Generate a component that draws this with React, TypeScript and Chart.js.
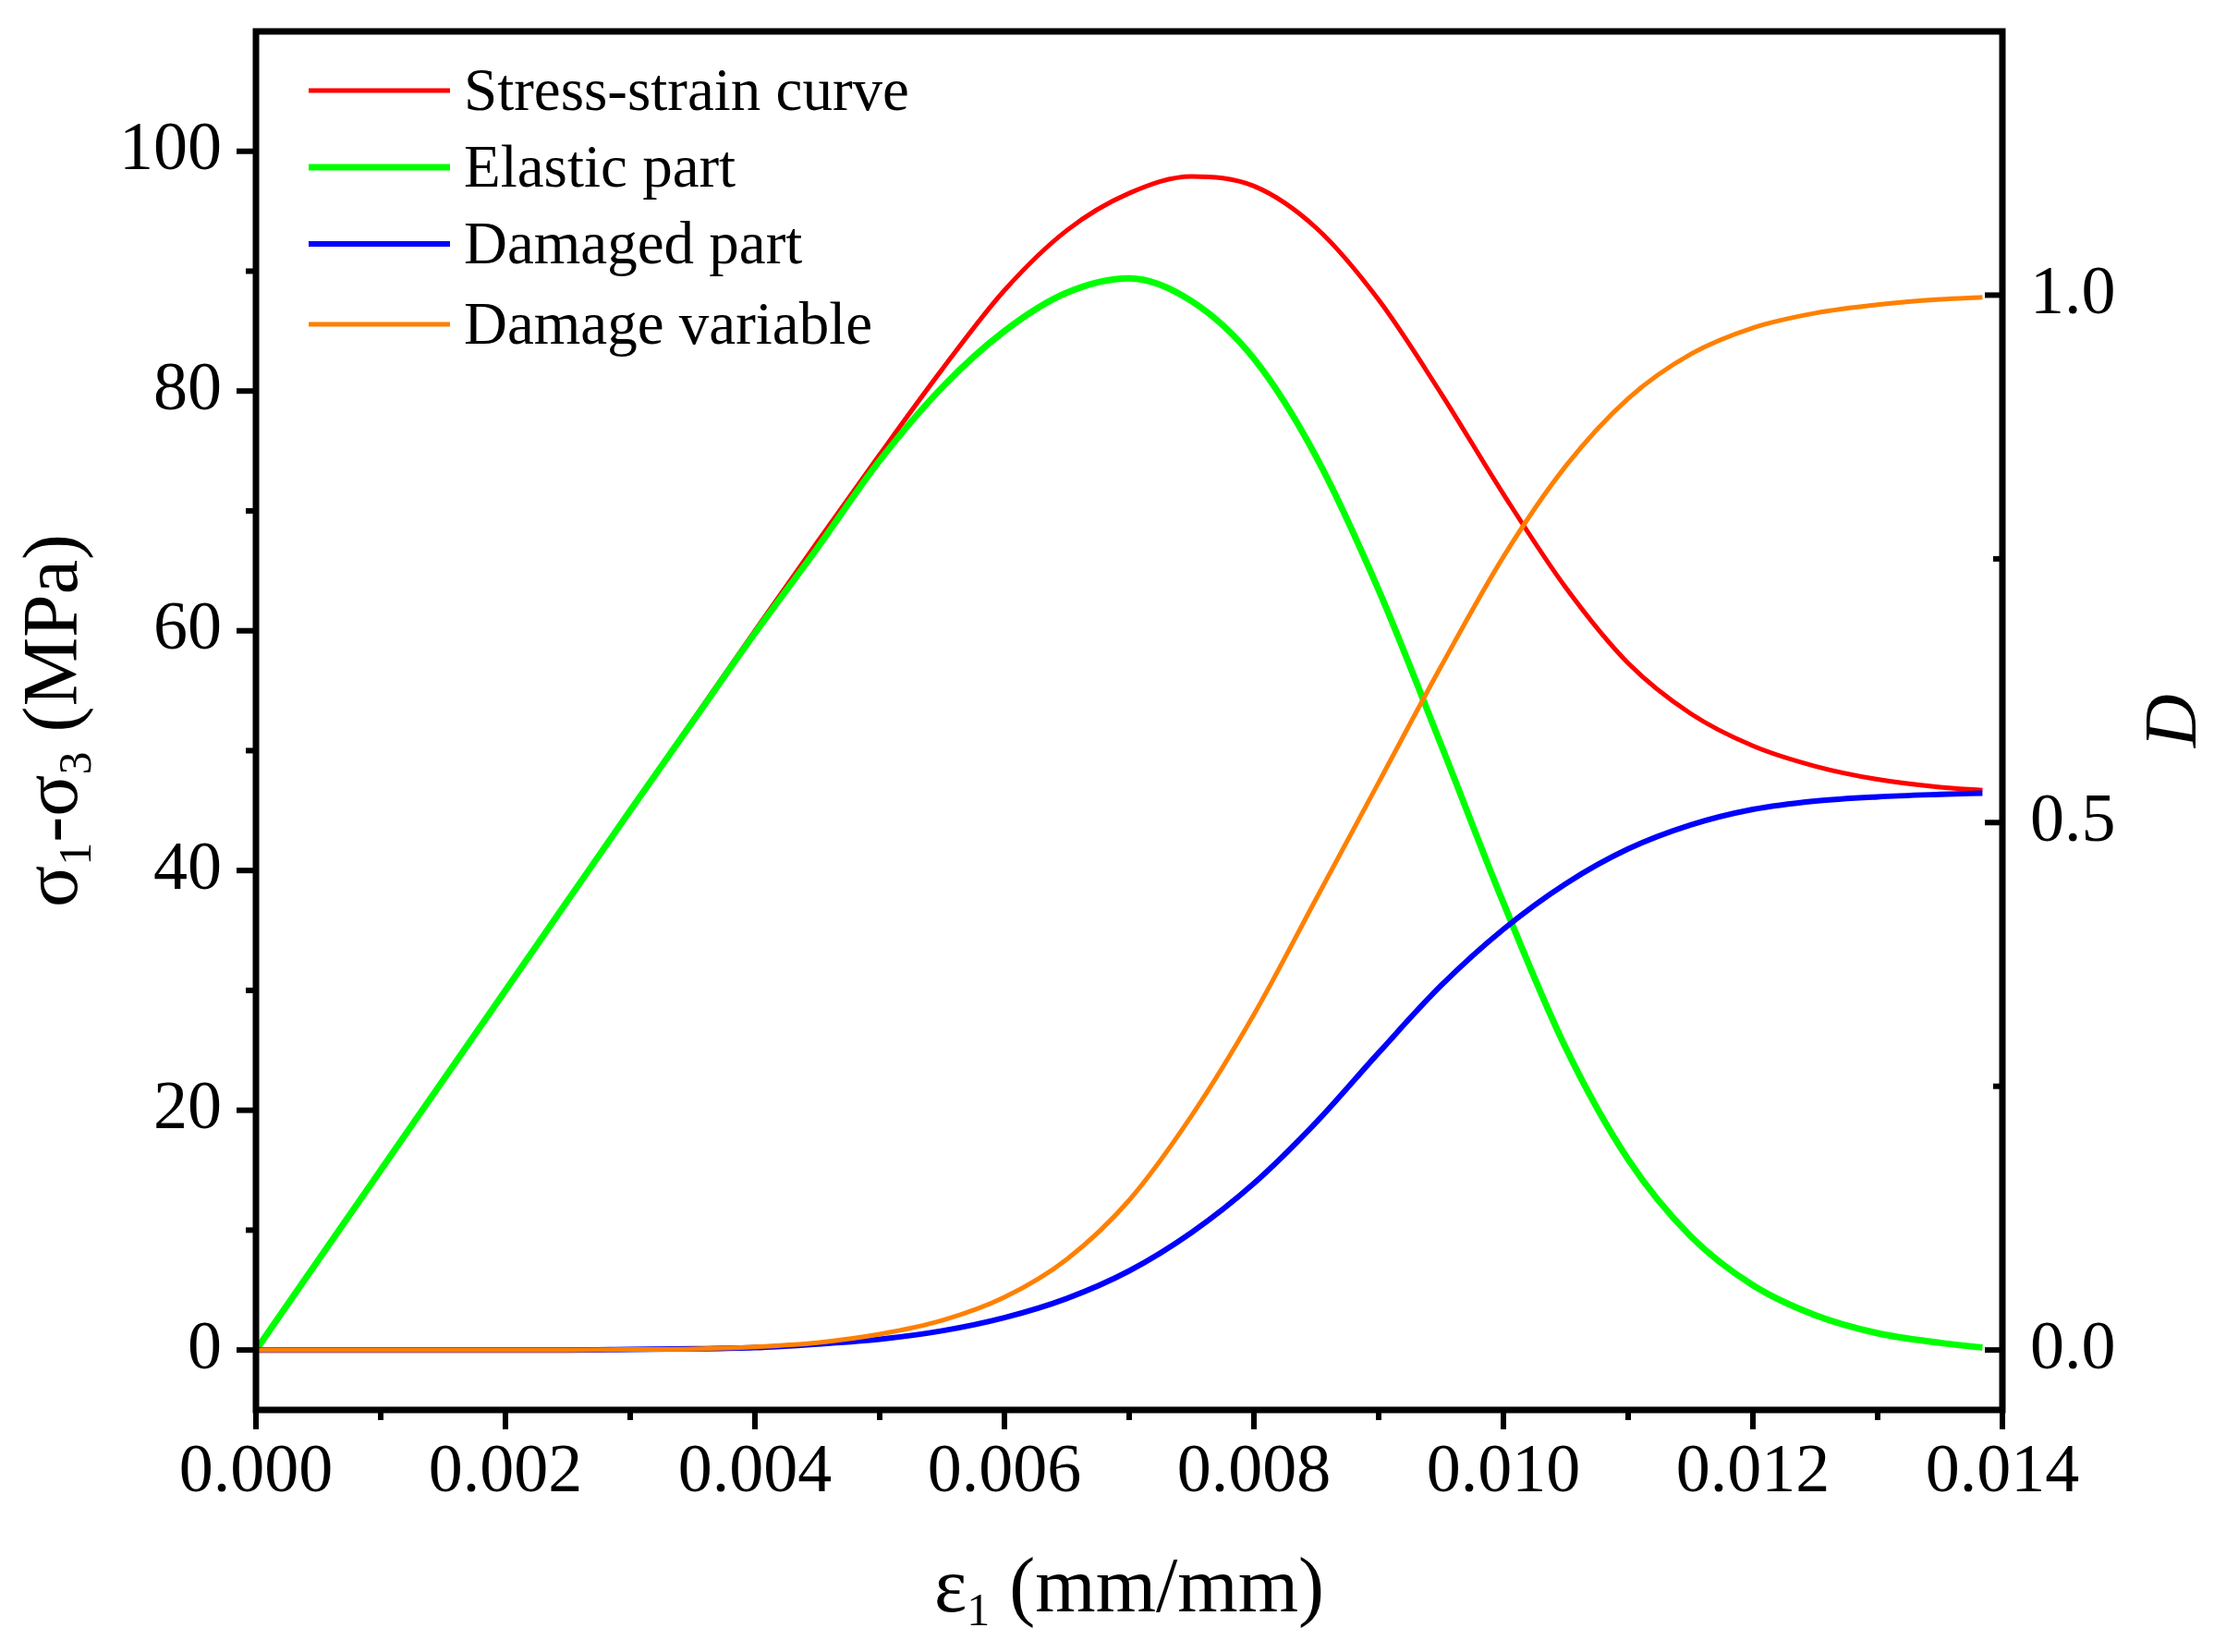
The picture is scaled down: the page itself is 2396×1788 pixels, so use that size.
import React, { useEffect, useRef } from 'react';
import { Chart, registerables } from 'chart.js';

Chart.register(...registerables);

// strain values (mm/mm)
const strain = [
  0, 0.0005, 0.001, 0.0015, 0.002, 0.0025, 0.003, 0.0035, 0.004, 0.0045,
  0.005, 0.0055, 0.006, 0.0065, 0.007, 0.0075, 0.008, 0.0085, 0.009, 0.0095,
  0.01, 0.0105, 0.011, 0.0115, 0.012, 0.0125, 0.013, 0.0135, 0.01384,
];

// deviatoric stress (MPa)
const stressStrain = [
  0, 7.5, 15, 22.5, 30, 37.5, 45, 52.5, 60.0, 67.4,
  74.7, 81.8, 88.4, 93.4, 96.5, 97.9, 97.1, 93.6, 87.6, 79.8,
  71.4, 63.6, 57.3, 53.1, 50.4, 48.7, 47.6, 46.95, 46.7,
];
const elasticPart = [
  0, 7.5, 15, 22.5, 30, 37.5, 45, 52.4, 59.8, 66.9,
  74.2, 80.3, 85.0, 88.2, 89.4, 87.5, 82.7, 74.5, 63.4, 50.5,
  37.3, 25.2, 15.9, 9.5, 5.4, 2.9, 1.4, 0.6, 0.2,
];
const damagedPart = [
  0, 0, 0, 0, 0, 0, 0.05, 0.1, 0.2, 0.5,
  0.9, 1.6, 2.7, 4.3, 6.6, 9.8, 13.9, 19.0, 24.8, 30.4,
  35.1, 38.9, 41.8, 43.8, 45.1, 45.8, 46.15, 46.35, 46.45,
];
// damage variable D (right axis)
const damageVariable = [
  0, 0, 0, 0, 0, 0, 0.0005, 0.001, 0.003, 0.007,
  0.015, 0.028, 0.05, 0.086, 0.142, 0.222, 0.318, 0.428, 0.538, 0.648,
  0.752, 0.838, 0.902, 0.944, 0.969, 0.983, 0.991, 0.996, 0.998,
];

const xMajor = [0, 0.002, 0.004, 0.006, 0.008, 0.01, 0.012, 0.014];
const xMinor = [0.001, 0.003, 0.005, 0.007, 0.009, 0.011, 0.013];
const yMajor = [0, 20, 40, 60, 80, 100];
const yMinor = [10, 30, 50, 70, 90];
const dMajor = [0, 0.5, 1.0];
const dMinor = [0.25, 0.75];

const FONT = "'Liberation Serif', 'Times New Roman', serif";

type Part = { t: string; sub?: boolean };

const drawRich = (ctx: CanvasRenderingContext2D, parts: Part[], size: number, cx: number, baseline: number) => {
  const subSize = Math.round(size * 0.6);
  const widths = parts.map(p => {
    ctx.font = `${p.sub ? subSize : size}px ${FONT}`;
    return ctx.measureText(p.t).width;
  });
  const total = widths.reduce((a, b) => a + b, 0);
  let x = cx - total / 2;
  parts.forEach((p, i) => {
    ctx.font = `${p.sub ? subSize : size}px ${FONT}`;
    ctx.fillText(p.t, x, baseline + (p.sub ? size * 0.18 : 0));
    x += widths[i];
  });
};

const framePlugin = {
  id: 'frameAndTicks',
  afterDraw(chart: any) {
    const { ctx, chartArea: a, scales } = chart;
    ctx.save();
    ctx.strokeStyle = '#000';
    ctx.fillStyle = '#000';
    ctx.lineCap = 'butt';

    const line = (x1: number, y1: number, x2: number, y2: number, w: number) => {
      ctx.lineWidth = w;
      ctx.beginPath();
      ctx.moveTo(x1, y1);
      ctx.lineTo(x2, y2);
      ctx.stroke();
    };

    // bottom ticks, outward
    xMajor.forEach(v => { const p = scales.x.getPixelForValue(v); line(p, a.bottom, p, a.bottom + 21, 6); });
    xMinor.forEach(v => { const p = scales.x.getPixelForValue(v); line(p, a.bottom, p, a.bottom + 11, 6); });
    // left ticks, outward
    yMajor.forEach(v => { const p = scales.y.getPixelForValue(v); line(a.left, p, a.left - 21, p, 6); });
    yMinor.forEach(v => { const p = scales.y.getPixelForValue(v); line(a.left, p, a.left - 11, p, 6); });
    // right ticks, inward
    dMajor.forEach(v => { const p = scales.y2.getPixelForValue(v); line(a.right, p, a.right - 19, p, 6); });
    dMinor.forEach(v => { const p = scales.y2.getPixelForValue(v); line(a.right, p, a.right - 10, p, 6); });

    // frame
    ctx.lineWidth = 7;
    ctx.strokeRect(a.left, a.top, a.right - a.left, a.bottom - a.top);

    // legend
    const rows = [98, 181, 264, 351];
    chart.data.datasets.forEach((ds: any, i: number) => {
      ctx.strokeStyle = ds.borderColor;
      line(334, rows[i], 487, rows[i], ds.borderWidth);
      ctx.font = `65px ${FONT}`;
      ctx.textAlign = 'left';
      ctx.textBaseline = 'alphabetic';
      ctx.fillText(ds.label, 502, rows[i] + 21);
    });
    ctx.strokeStyle = '#000';

    // axis titles
    ctx.textAlign = 'left';
    ctx.textBaseline = 'alphabetic';
    drawRich(ctx, [{ t: 'ε' }, { t: '1', sub: true }, { t: ' (mm/mm)' }], 84, (a.left + a.right) / 2, 1744);

    ctx.save();
    ctx.translate(83, (a.top + a.bottom) / 2);
    ctx.rotate(-Math.PI / 2);
    drawRich(ctx, [{ t: 'σ' }, { t: '1', sub: true }, { t: '-σ' }, { t: '3', sub: true }, { t: ' (MPa)' }], 84, 0, 0);
    ctx.restore();

    ctx.save();
    ctx.translate(2376, (a.top + a.bottom) / 2);
    ctx.rotate(-Math.PI / 2);
    ctx.font = `italic 80px ${FONT}`;
    ctx.textAlign = 'center';
    ctx.fillText('D', 0, 0);
    ctx.restore();

    ctx.restore();
  },
};

const noPad = (s: any) => {
  s.paddingTop = 0;
  s.paddingBottom = 0;
  s.paddingLeft = 0;
  s.paddingRight = 0;
};

const App: React.FC = () => {
  const canvasRef = useRef<HTMLCanvasElement | null>(null);

  useEffect(() => {
    document.body.style.margin = '0';
    document.body.style.overflow = 'hidden';
    if (!canvasRef.current) return;
    const ctx = canvasRef.current.getContext('2d');
    if (!ctx) return;

    const pts = (ys: number[]) => strain.map((x, i) => ({ x, y: ys[i] }));
    const tickFont = { family: FONT, size: 74 };

    const chart = new Chart(ctx, {
      type: 'line',
      data: {
        datasets: [
          { label: 'Stress-strain curve', data: pts(stressStrain), borderColor: '#ff0000', borderWidth: 5, yAxisID: 'y', order: 4 },
          { label: 'Elastic part', data: pts(elasticPart), borderColor: '#00ff00', borderWidth: 7, yAxisID: 'y', order: 3 },
          { label: 'Damaged part', data: pts(damagedPart), borderColor: '#0000ff', borderWidth: 6, yAxisID: 'y', order: 2 },
          { label: 'Damage variable', data: pts(damageVariable), borderColor: '#ff8000', borderWidth: 5, yAxisID: 'y2', order: 1 },
        ],
      },
      options: {
        animation: false,
        responsive: true,
        maintainAspectRatio: false,
        devicePixelRatio: 1,
        layout: { padding: { top: 34, left: 0, right: 0, bottom: 0 } },
        elements: {
          point: { radius: 0, hoverRadius: 0 },
          line: { cubicInterpolationMode: 'monotone', fill: false },
        },
        plugins: { legend: { display: false }, tooltip: { enabled: false } },
        scales: {
          x: {
            type: 'linear',
            min: 0,
            max: 0.014,
            grid: { display: false, drawTicks: false },
            border: { display: false },
            afterBuildTicks: (s: any) => { s.ticks = xMajor.map(value => ({ value })); },
            afterFit: (s: any) => { s.height = 262; noPad(s); },
            ticks: { font: tickFont, color: '#000', padding: 24, maxRotation: 0, callback: (v: any) => Number(v).toFixed(3) },
          },
          y: {
            type: 'linear',
            position: 'left',
            min: -5,
            max: 110,
            grid: { display: false, drawTicks: false },
            border: { display: false },
            afterBuildTicks: (s: any) => { s.ticks = yMajor.map(value => ({ value })); },
            afterFit: (s: any) => { s.width = 277; noPad(s); },
            ticks: { font: tickFont, color: '#000', padding: 37, callback: (v: any) => String(v) },
          },
          y2: {
            type: 'linear',
            position: 'right',
            min: -5 / 88,
            max: 110 / 88,
            grid: { display: false, drawTicks: false },
            border: { display: false },
            afterBuildTicks: (s: any) => { s.ticks = dMajor.map(value => ({ value })); },
            afterFit: (s: any) => { s.width = 229; noPad(s); },
            ticks: { font: tickFont, color: '#000', padding: 30, callback: (v: any) => Number(v).toFixed(1) },
          },
        },
      },
      plugins: [framePlugin],
    });

    return () => {
      chart.destroy();
    };
  }, []);

  return (
    <div style={{ width: 2396, height: 1788, position: 'relative', background: '#fff' }}>
      <canvas ref={canvasRef} />
    </div>
  );
};

export default App;
